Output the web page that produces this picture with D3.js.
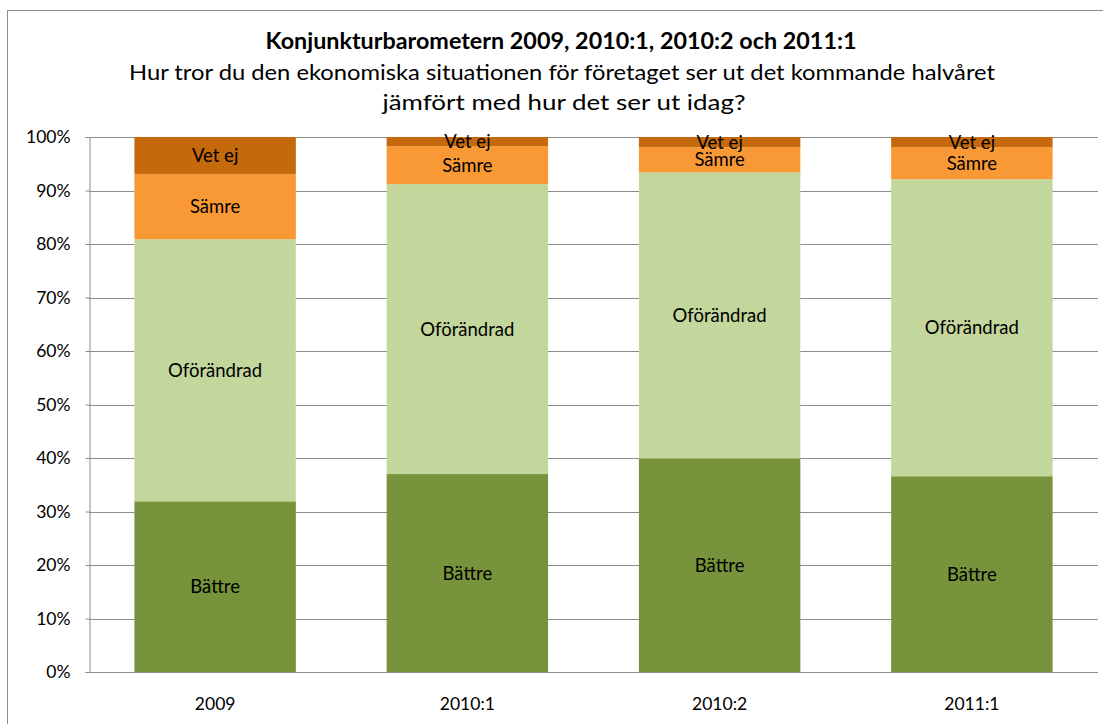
<!DOCTYPE html>
<html>
<head>
<meta charset="utf-8">
<script src="https://cdn.jsdelivr.net/npm/d3@7"></script>
<style>
  body { margin: 0; background: #fff; }
  svg text { font-family: Lato, "Open Sans", sans-serif; fill: #000; }
</style>
</head>
<body>
<div id="chart"></div>
<script>
// Data
const categories = ["2009", "2010:1", "2010:2", "2011:1"];
const seriesNames = ["Bättre", "Oförändrad", "Sämre", "Vet ej"];
const battre     = [31.9, 37.0, 39.9, 36.6];
const oforandrad = [49.0, 54.2, 53.5, 55.5];
const samre      = [12.2, 7.1, 4.7, 6.0];
const vetEj      = [6.9, 1.7, 1.9, 1.9];
const yTicks = [0, 10, 20, 30, 40, 50, 60, 70, 80, 90, 100];

const colors = ["#77933c", "#c3d69b", "#f99935", "#c4690c"];

const width = 1103, height = 724;
const margin = { top: 137, right: 5, bottom: 52, left: 89 };

const svg = d3.select("#chart").append("svg")
    .attr("width", width)
    .attr("height", height);

// outer chart frame
svg.append("rect")
    .attr("x", 7.5).attr("y", 10.5)
    .attr("width", width - 6).attr("height", height)
    .attr("fill", "none")
    .attr("stroke", "#8c8c8c")
    .attr("stroke-width", 1);

// titles
const titleLines = [
    { text: "Konjunkturbarometern 2009, 2010:1, 2010:2 och 2011:1", x: 561, y: 49, len: 591, bold: true },
    { text: "Hur tror du den ekonomiska situationen för företaget ser ut det kommande halvåret", x: 562, y: 80, len: 866, bold: false },
    { text: "jämfört med hur det ser ut idag?", x: 564, y: 110, len: 363, bold: false }
];
svg.append("g")
    .selectAll("text")
    .data(titleLines)
    .join("text")
    .attr("x", d => d.x).attr("y", d => d.y)
    .attr("text-anchor", "middle")
    .attr("font-size", "22px")
    .attr("font-weight", d => d.bold ? "bold" : "normal")
    .attr("textLength", d => d.len)
    .attr("lengthAdjust", "spacingAndGlyphs")
    .text(d => d.text);

const x = d3.scaleBand()
    .domain(categories)
    .range([margin.left, width - margin.right])
    .paddingInner(0.36)
    .paddingOuter(0.18);

const y = d3.scaleLinear()
    .domain([0, 100])
    .range([height - margin.bottom, margin.top]);

// gridlines
svg.append("g")
    .selectAll("line")
    .data(yTicks)
    .join("line")
    .attr("x1", margin.left)
    .attr("x2", width - margin.right)
    .attr("y1", d => Math.round(y(d)) + 0.5)
    .attr("y2", d => Math.round(y(d)) + 0.5)
    .attr("stroke", "#8c8c8c")
    .attr("stroke-width", 1);

// stacked rows
const rows = categories.map((c, i) => ({
    cat: c,
    "Bättre": battre[i],
    "Oförändrad": oforandrad[i],
    "Sämre": samre[i],
    "Vet ej": vetEj[i]
}));
const stacked = d3.stack().keys(seriesNames)(rows);

const layers = svg.append("g")
    .selectAll("g")
    .data(stacked)
    .join("g")
    .attr("fill", (d, i) => colors[i]);

layers.selectAll("rect")
    .data(d => d)
    .join("rect")
    .attr("x", d => x(d.data.cat))
    .attr("width", x.bandwidth())
    .attr("y", d => y(d[1]))
    .attr("height", d => y(d[0]) - y(d[1]));

// segment labels
const labels = svg.append("g");
stacked.forEach(layer => {
    labels.selectAll(null)
        .data(layer)
        .join("text")
        .attr("x", d => x(d.data.cat) + x.bandwidth() / 2)
        .attr("y", d => y((d[0] + d[1]) / 2))
        .attr("dy", "0.35em")
        .attr("text-anchor", "middle")
        .attr("font-size", "18.5px")
        .text(layer.key);
});

// y axis
const yAxis = svg.append("g")
    .attr("transform", `translate(${margin.left + 0.5},0)`)
    .call(d3.axisLeft(y).tickValues(yTicks).tickFormat(d => d + "%").tickSize(4).tickPadding(15));
yAxis.select(".domain").attr("stroke", "#8c8c8c");
yAxis.selectAll(".tick line").attr("stroke", "#8c8c8c");
yAxis.selectAll("text").attr("font-size", "17.5px").attr("font-family", "Lato, sans-serif");

// x axis labels
const xAxis = svg.append("g")
    .attr("transform", `translate(0,${height - margin.bottom})`)
    .call(d3.axisBottom(x).tickSize(0).tickPadding(26));
xAxis.select(".domain").remove();
xAxis.selectAll("text").attr("font-size", "17.5px").attr("font-family", "Lato, sans-serif");
</script>
</body>
</html>
